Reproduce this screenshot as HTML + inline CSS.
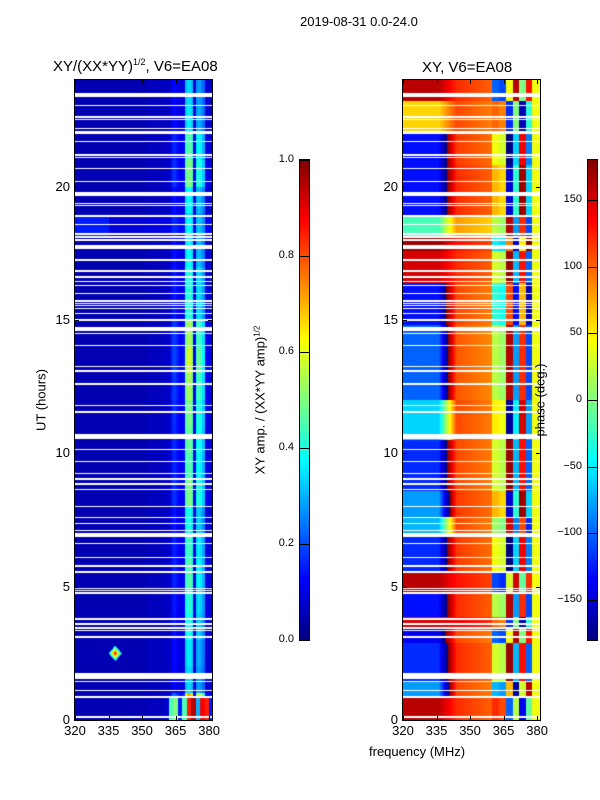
<!DOCTYPE html>
<html><head><meta charset="utf-8">
<style>
html,body{margin:0;padding:0;background:#fff;}
#root{position:relative;width:600px;height:800px;overflow:hidden;font-family:"Liberation Sans","DejaVu Sans",sans-serif;color:#000;}
.t{position:absolute;white-space:nowrap;}
.tick{position:absolute;font-size:13px;}
.cbt{position:absolute;font-size:11px;text-align:right;width:40px;}
canvas{position:absolute;}
.frame{position:absolute;border:1px solid #000;box-sizing:border-box;pointer-events:none;}
</style></head>
<body>
<div id="root">
  <div class="t" style="left:300px;top:14px;font-size:13px;">2019-08-31 0.0-24.0</div>
  <div class="t" style="left:53px;top:57px;font-size:15px;">XY/(XX*YY)<sup style="font-size:9px">1/2</sup>, V6=EA08</div>
  <div class="t" style="left:422px;top:59px;font-size:15px;">XY, V6=EA08</div>

  <canvas id="ampc" width="137" height="640" style="left:75px;top:80px;"></canvas>
  <div class="frame" style="left:74px;top:79px;width:139px;height:642px;"></div>
  <canvas id="phc" width="137" height="640" style="left:403px;top:80px;"></canvas>
  <div class="frame" style="left:402px;top:79px;width:139px;height:642px;"></div>

  <canvas id="cb1" width="9" height="480" style="left:300px;top:160px;"></canvas>
  <div class="frame" style="left:299px;top:159px;width:11px;height:482px;"></div>
  <canvas id="cb2" width="9" height="480" style="left:588px;top:160px;"></canvas>
  <div class="frame" style="left:587px;top:159px;width:11px;height:482px;"></div>

  <div class="t" style="left:41px;top:400px;font-size:13px;transform:translate(-50%,-50%) rotate(-90deg);">UT (hours)</div>
  <div class="t" style="left:260px;top:400px;font-size:13px;transform:translate(-50%,-50%) rotate(-90deg);">XY amp. / (XX*YY amp)<sup style="font-size:8px">1/2</sup></div>
  <div class="t" style="left:540px;top:400px;font-size:13px;transform:translate(-50%,-50%) rotate(-90deg);">phase (deg.)</div>
  <div class="t" style="left:369px;top:744px;font-size:13px;">frequency (MHz)</div>
  <div id="ticks"></div>
</div>
<script>
// ---- data ----
const yTicks = [0,5,10,15,20];
const xTicks = [320,335,350,365,380];
const ampCbTicks = [0.0,0.2,0.4,0.6,0.8,1.0];
const phCbTicks = [-150,-100,-50,0,50,100,150];
// flagged (blank) time ranges, hours
const flagRanges = [[23.38,23.5],[23.03,23.08],[22.59,22.64],[22.5,22.55],[22.16,22.21],[22.03,22.08],[21.97,22.02],[21.68,21.73],[21.16,21.21],[21.07,21.12],[20.66,20.71],[20.18,20.23],[19.74,19.79],[19.66,19.71],[19.35,19.4],[19.26,19.31],[18.88,18.93],[18.56,18.61],[18.2,18.25],[18.09,18.14],[17.97,18.02],[17.65,17.81],[17.22,17.27],[16.81,16.86],[16.56,16.66],[16.43,16.48],[16.26,16.31],[15.97,16.02],[15.69,15.74],[15.6,15.65],[15.51,15.56],[15.41,15.46],[15.22,15.27],[14.97,15.02],[14.59,14.75],[14.47,14.52],[14.03,14.08],[13.22,13.27],[13.06,13.11],[12.57,12.62],[11.78,11.83],[11.53,11.58],[10.53,10.71],[10.12,10.17],[9.66,9.71],[9.22,9.27],[9.01,9.06],[8.82,8.87],[8.62,8.67],[7.97,8.02],[7.56,7.62],[7.35,7.4],[7.09,7.14],[6.87,7.0],[6.6,6.65],[6.07,6.12],[5.75,5.8],[5.53,5.58],[4.91,4.96],[4.82,4.87],[4.74,4.79],[3.76,3.81],[3.57,3.62],[3.43,3.48],[3.32,3.37],[3.06,3.16],[1.55,1.77],[1.41,1.46],[1.07,1.12],[0.84,0.89],[0.09,0.14]];
// amplitude profile per 1 MHz bin starting 320
const ampProfile = [0.05,0.05,0.05,0.05,0.05,0.05,0.05,0.05,0.05,0.05,0.05,0.05,0.05,0.05,0.05,0.05,0.05,0.05,0.05,0.05,0.05,0.05,0.05,0.05,0.05,0.05,0.05,0.05,0.05,0.05,0.05,0.05,0.06,0.06,0.06,0.06,0.06,0.06,0.06,0.06,0.07,0.07,0.07,0.14,0.16,0.14,0.12,0.1,0.12,0.42,0.46,0.46,0.42,0.1,0.36,0.38,0.36,0.3,0.1,0.09,0.09,0.08];
// column brightness per hour
const hourScale = [1.6,0.7,0.75,0.85,0.9,1.0,0.95,0.85,1.1,1.0,1.05,1.1,1.2,1.3,1.2,0.9,0.9,0.8,0.7,0.8,1.1,1.0,0.75,0.7];
// low-band burst, 0-0.85 h, amplitude per 2 MHz bin (from 360 MHz)
const burstAmp = [0.08,0.45,0.5,0.15,0.45,0.85,0.95,0.3,0.88,0.85,0.15];
// phase blocks: start hour, left (320-338), mid (340-360), right (360-377) phase in deg
const blockStart = [0,0.9,1.45,2.9,3.5,3.85,4.8,5.6,6.9,7.6,8.6,10.5,12.0,14.8,16.4,17.6,18.1,18.95,20.8,22.0,23.2];
const leftPhase  = [160,-80,-120,-140,150,-130,160,-120,-70,-80,-120,-60,-100,-130,150,170,-20,-130,-130,60,160];
const midPhase   = [120,110,120,110,140,120,130,115,110,115,110,110,105,110,120,130,80,120,115,110,120];
const rightPhase = [-40,130,-130,100,-60,-140,90,-120,-150,-90,-130,-110,-140,170,-130,150,-140,-90,-120,-60,100];
// phase offsets across 360-377.5 MHz (per 3 MHz bin)
const rightOffset = [-200,150,-60,60,-100,30];
</script>
<script>
const root=document.getElementById('root');
function jet(v){v=Math.max(0,Math.min(1,v));
  const r=Math.max(0,Math.min(1,1.5-Math.abs(4*v-3)));
  const g=Math.max(0,Math.min(1,1.5-Math.abs(4*v-2)));
  const b=Math.max(0,Math.min(1,1.5-Math.abs(4*v-1)));
  return [r*255,g*255,b*255];}
const F0=320,F1=381.3,T1=24,W=137,H=640;
function fx(f){return (f-F0)/(F1-F0)*W;}
function ty(t){return H-t/T1*H;}
function flagged(t){for(const r of flagRanges){if(t>=r[0]&&t<=r[1])return true;}return false;}
function blockIdx(t){let k=0;for(let i=0;i<blockStart.length;i++){if(t>=blockStart[i])k=i;}return k;}
function ampAt(t,f){
  const bi=Math.min(ampProfile.length-1,Math.floor(f-F0));
  let a=ampProfile[bi];
  const hs=hourScale[Math.min(23,Math.floor(t))];
  if(f>=360) a=0.05+(a-0.05)*hs;
  if(t<0.85&&f>=360){a=burstAmp[Math.min(burstAmp.length-1,Math.floor((f-360)/2))];}
  if(t>18.1&&t<18.9){a+= f<335?0.1:0.04;}
  const d=1-Math.abs(f-338)/3-Math.abs(t-2.5)/0.3;
  if(d>0)a=Math.max(a,0.3+0.6*d);
  return a;}
function wrap(p){while(p>180)p-=360;while(p<-180)p+=360;return p;}
function phaseAt(t,f){
  const k=blockIdx(t);
  if(f>=377.5)return 40;
  if(f>=360){return wrap(rightPhase[k]+rightOffset[Math.min(rightOffset.length-1,Math.floor((f-360)/3))]);}
  if(f<336)return leftPhase[k];
  if(f<344){const w=(f-336)/8;let d=wrap(midPhase[k]-leftPhase[k]);return wrap(leftPhase[k]+w*d);}
  return midPhase[k]-(f-344)*1.2;}
function drawHeat(id,fn,norm){
  const c=document.getElementById(id),ctx=c.getContext('2d'),img=ctx.createImageData(W,H);
  for(let y=0;y<H;y++){const t=(H-y-0.5)/H*T1;const fl=flagged(t);
    for(let x=0;x<W;x++){const f=F0+(x+0.5)/W*(F1-F0);const i=(y*W+x)*4;
      if(fl){img.data[i]=img.data[i+1]=img.data[i+2]=255;}
      else{const col=jet(norm(fn(t,f)));img.data[i]=col[0];img.data[i+1]=col[1];img.data[i+2]=col[2];}
      img.data[i+3]=255;}}
  ctx.putImageData(img,0,0);}
drawHeat('ampc',ampAt,v=>v);
drawHeat('phc',phaseAt,p=>(p+180)/360);
function drawCb(id){const c=document.getElementById(id),ctx=c.getContext('2d');
  for(let y=0;y<480;y++){const col=jet(1-(y+0.5)/480);ctx.fillStyle=`rgb(${col[0]|0},${col[1]|0},${col[2]|0})`;ctx.fillRect(0,y,9,1);}}
drawCb('cb1');drawCb('cb2');
const tk=document.getElementById('ticks');
function add(html,name){const d=document.createElement('div');d.innerHTML=html;const e=d.firstChild;
  
  
  tk.appendChild(e);}
[75,403].forEach((px,pi)=>{
  yTicks.forEach(v=>{const y=80+ty(v);
    add(`<div class="tick" style="left:${px-45}px;top:${y-8}px;width:40px;text-align:right">${v}</div>`,'y-tick-label');
    add(`<div style="position:absolute;left:${px}px;top:${y}px;width:4px;height:1px;background:#000"></div>`,'y-tick-mark');
    add(`<div style="position:absolute;left:${px+133}px;top:${y}px;width:4px;height:1px;background:#000"></div>`,'y-tick-mark');});
  xTicks.forEach(v=>{const x=px+fx(v);
    add(`<div class="tick" style="left:${x-20}px;top:723px;width:40px;text-align:center">${v}</div>`,'x-tick-label');
    add(`<div style="position:absolute;left:${x}px;top:716px;width:1px;height:4px;background:#000"></div>`,'x-tick-mark');
    add(`<div style="position:absolute;left:${x}px;top:80px;width:1px;height:4px;background:#000"></div>`,'x-tick-mark');});
});
ampCbTicks.forEach(v=>{const y=640-v*480;
  add(`<div class="cbt" style="left:254px;top:${y-7}px">${v.toFixed(1)}</div>`,'amp-colorbar-tick');
  add(`<div style="position:absolute;left:300px;top:${y}px;width:9px;height:1px;background:#000"></div>`,'amp-colorbar-tick-mark');});
phCbTicks.forEach(v=>{const y=640-(v+180)/360*480;
  add(`<div class="cbt" style="left:542px;top:${y-7}px">${v<0?'\u2212'+(-v):v}</div>`,'phase-colorbar-tick');
  add(`<div style="position:absolute;left:588px;top:${y}px;width:9px;height:1px;background:#000"></div>`,'phase-colorbar-tick-mark');});
</script>
</body></html>
